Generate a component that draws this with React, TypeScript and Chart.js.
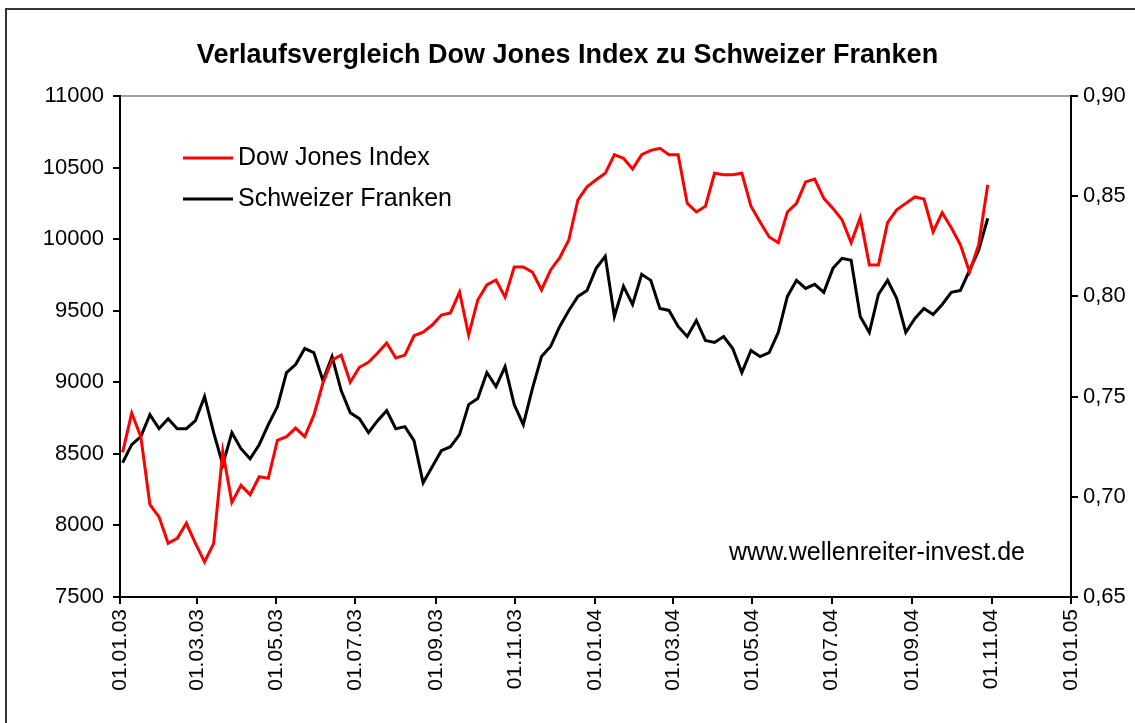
import React, { useEffect, useRef } from "react";
import { Chart, registerables } from "chart.js";

Chart.register(...registerables);

// ---------- data ----------
const titleText = "Verlaufsvergleich Dow Jones Index zu Schweizer Franken";
const seriesNames = ["Dow Jones Index", "Schweizer Franken"];
const seriesColors = ["#ff0000", "#000000"];
const sourceText = "www.wellenreiter-invest.de";

// weekly closes, first week ending 03.01.03
const firstDate = "03.01.03";

const dowValues = [
  8510, 8785, 8620, 8145, 8060, 7875, 7910, 8015, 7875, 7745,
  7875, 8515, 8160, 8280, 8215, 8340, 8330, 8595, 8620, 8680,
  8620, 8770, 8995, 9155, 9190, 9000, 9105, 9140, 9205, 9275,
  9170, 9190, 9325, 9350, 9400, 9470, 9485, 9630, 9330, 9575,
  9680, 9715, 9595, 9805, 9805, 9770, 9645, 9785, 9870, 9995,
  10275, 10365, 10415, 10460, 10590, 10565, 10490, 10590, 10620, 10635,
  10590, 10590, 10250, 10190, 10230, 10460, 10450, 10450, 10460, 10230,
  10120, 10015, 9975, 10190, 10250, 10400, 10420, 10285, 10215, 10135,
  9975, 10150, 9820, 9820, 10115, 10205, 10250, 10295, 10280, 10050,
  10185, 10080, 9960, 9770, 9960, 10380,
];

const chfValues = [
  0.717, 0.726, 0.730, 0.741, 0.734, 0.739, 0.734, 0.734, 0.738, 0.750,
  0.732, 0.716, 0.732, 0.724, 0.719, 0.726, 0.736, 0.745, 0.762, 0.766,
  0.774, 0.772, 0.758, 0.770, 0.753, 0.742, 0.739, 0.732, 0.738, 0.743,
  0.734, 0.735, 0.728, 0.707, 0.715, 0.723, 0.725, 0.731, 0.746, 0.749,
  0.762, 0.755, 0.765, 0.746, 0.736, 0.754, 0.770, 0.775, 0.785, 0.793,
  0.800, 0.803, 0.814, 0.820, 0.790, 0.805, 0.796, 0.811, 0.808, 0.794,
  0.793, 0.785, 0.780, 0.788, 0.778, 0.777, 0.780, 0.774, 0.762, 0.773,
  0.770, 0.772, 0.782, 0.800, 0.808, 0.804, 0.806, 0.802, 0.814, 0.819,
  0.818, 0.790, 0.782, 0.801, 0.808, 0.799, 0.782, 0.789, 0.794, 0.791,
  0.796, 0.802, 0.803, 0.813, 0.823, 0.839,
];

const xTickLabels = [
  "01.01.03", "01.03.03", "01.05.03", "01.07.03", "01.09.03", "01.11.03",
  "01.01.04", "01.03.04", "01.05.04", "01.07.04", "01.09.04", "01.11.04",
  "01.01.05",
];

const leftMin = 7500;
const leftMax = 11000;
const leftStep = 500;
const rightMin = 0.65;
const rightMax = 0.9;
const rightStep = 0.05;

// ---------- helpers ----------
const FONT = "'Liberation Sans', Arial, sans-serif";

function dayOf(label: string): number {
  const [d, m, y] = label.split(".").map((s) => parseInt(s, 10));
  return Math.round((Date.UTC(2000 + y, m - 1, d) - Date.UTC(2003, 0, 1)) / 86400000);
}

const firstDay = dayOf(firstDate);
const dowPoints = dowValues.map((v, i) => ({ x: firstDay + 7 * i, y: v }));
const chfPoints = chfValues.map((v, i) => ({ x: firstDay + 7 * i, y: v }));
const tickDays = xTickLabels.map(dayOf);
const labelByDay: Record<number, string> = {};
xTickLabels.forEach((l) => (labelByDay[dayOf(l)] = l));

const framePlugin = {
  id: "frame",
  beforeDraw(chart: any) {
    const { ctx, width, height, chartArea: a } = chart;
    ctx.save();
    ctx.fillStyle = "#ffffff";
    ctx.fillRect(0, 0, width, height);
    ctx.strokeStyle = "#333333";
    ctx.lineWidth = 2;
    ctx.beginPath();
    ctx.moveTo(6, height);
    ctx.lineTo(6, 9);
    ctx.lineTo(width, 9);
    ctx.stroke();
    // plot area top border (grey)
    ctx.strokeStyle = "#a0a0a0";
    ctx.beginPath();
    ctx.moveTo(a.left, a.top);
    ctx.lineTo(a.right, a.top);
    ctx.stroke();
    ctx.restore();
  },
};

const legendPlugin = {
  id: "insideLegend",
  afterDraw(chart: any) {
    const { ctx, chartArea: a } = chart;
    ctx.save();
    ctx.font = `25px ${FONT}`;
    ctx.textBaseline = "middle";
    ctx.textAlign = "left";
    const rows = [a.top + 62, a.top + 103];
    seriesNames.forEach((name, i) => {
      ctx.strokeStyle = seriesColors[i];
      ctx.lineWidth = 3;
      ctx.beginPath();
      ctx.moveTo(a.left + 63, rows[i]);
      ctx.lineTo(a.left + 113, rows[i]);
      ctx.stroke();
      ctx.fillStyle = "#000";
      ctx.fillText(name, a.left + 118, rows[i]);
    });
    ctx.textAlign = "right";
    ctx.fillText(sourceText, a.right - 46, a.bottom - 44);
    ctx.restore();
  },
};

export default function App() {
  const canvasRef = useRef<HTMLCanvasElement | null>(null);

  useEffect(() => {
    if (!canvasRef.current) return;
    const chart = new Chart(canvasRef.current, {
      type: "line",
      data: {
        datasets: [
          {
            label: seriesNames[0],
            data: dowPoints,
            borderColor: seriesColors[0],
            borderWidth: 3,
            pointRadius: 0,
            tension: 0,
            yAxisID: "y",
          },
          {
            label: seriesNames[1],
            data: chfPoints,
            borderColor: seriesColors[1],
            borderWidth: 3,
            pointRadius: 0,
            tension: 0,
            yAxisID: "y1",
          },
        ],
      },
      options: {
        animation: false,
        responsive: false,
        devicePixelRatio: 1,
        layout: { padding: 0 },
        plugins: {
          legend: { display: false },
          tooltip: { enabled: false },
          title: {
            display: true,
            text: titleText,
            color: "#000",
            font: { family: FONT, size: 27, weight: "bold" },
            padding: { top: 39, bottom: 24.6 },
          },
        },
        scales: {
          x: {
            type: "linear",
            min: 0,
            max: dayOf("01.01.05"),
            afterBuildTicks: (s: any) => {
              s.ticks = tickDays.map((v) => ({ value: v }));
            },
            afterFit: (s: any) => {
              s.height = 126;
            },
            ticks: {
              autoSkip: false,
              minRotation: 90,
              maxRotation: 90,
              padding: 5,
              color: "#000",
              font: { family: FONT, size: 21 },
              callback: (v: any) => labelByDay[Math.round(Number(v))] ?? "",
            },
            grid: { drawOnChartArea: false, drawTicks: true, tickLength: 7, color: "#000", lineWidth: 2 },
            border: { color: "#000", width: 2 },
          },
          y: {
            type: "linear",
            position: "left",
            min: leftMin,
            max: leftMax,
            afterFit: (s: any) => {
              s.width = 120;
            },
            ticks: {
              stepSize: leftStep,
              padding: 9,
              color: "#000",
              font: { family: FONT, size: 22 },
              callback: (v: any) => String(v),
            },
            grid: { drawOnChartArea: false, drawTicks: true, tickLength: 7, color: "#000", lineWidth: 2 },
            border: { color: "#000", width: 2 },
          },
          y1: {
            type: "linear",
            position: "right",
            min: rightMin,
            max: rightMax,
            afterFit: (s: any) => {
              s.width = 64;
            },
            ticks: {
              stepSize: rightStep,
              padding: 5,
              color: "#000",
              font: { family: FONT, size: 22 },
              callback: (v: any) => Number(v).toFixed(2).replace(".", ","),
            },
            grid: { drawOnChartArea: false, drawTicks: true, tickLength: 7, color: "#000", lineWidth: 2 },
            border: { color: "#000", width: 2 },
          },
        },
      },
      plugins: [framePlugin, legendPlugin],
    } as any);
    return () => chart.destroy();
  }, []);

  return (
    <div style={{ position: "fixed", left: 0, top: 0, width: 1135, height: 723, overflow: "hidden", background: "#fff" }}>
      <canvas ref={canvasRef} width={1135} height={723} style={{ display: "block" }} />
    </div>
  );
}
